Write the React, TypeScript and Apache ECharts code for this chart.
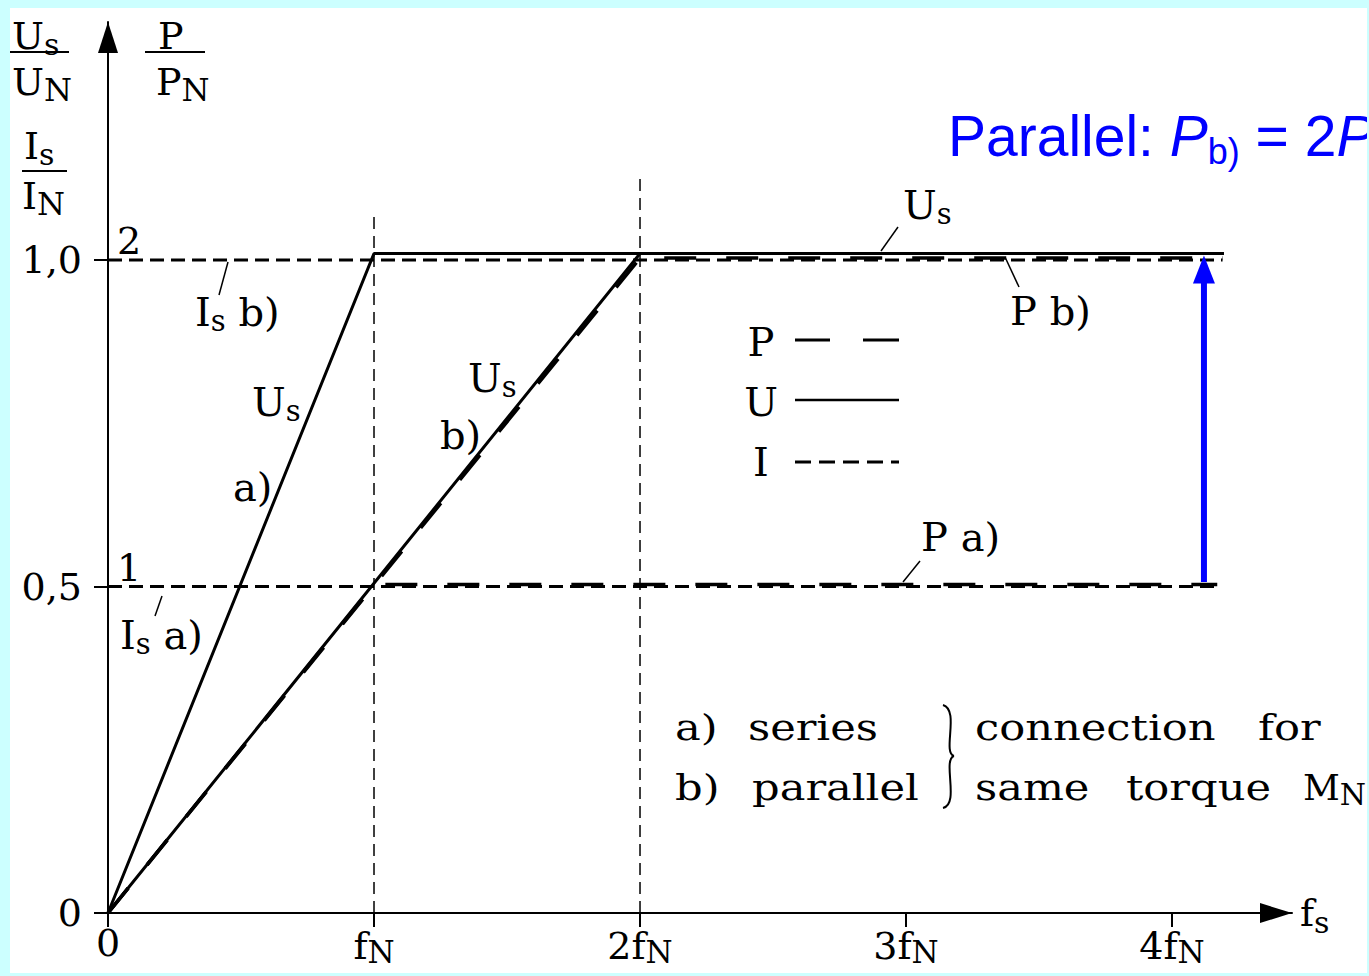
import React, { useEffect, useRef } from 'react';
import * as echarts from 'echarts';

const INK = '#000000';
const BLUE = '#0000ff';
const SERIF = "'DejaVu Serif', serif";
const SANS = "'Liberation Sans', Arial, sans-serif";

// frequency axis, in multiples of f_N
const xTickValues = [0, 1, 2, 3, 4];
const xTickLabels = ['0', 'f{n|N}', '2f{n|N}', '3f{n|N}', '4f{n|N}'];
const xMax = 4.451;

// per-unit axis (U_s/U_N, I_s/I_N) and the matching P/P_N marks
const yTickValues = [0, 0.5, 1];
const yTickLabels = ['0', '0,5', '1,0'];
const powerTickValues = [0.5, 1];
const powerTickLabels = ['1', '2'];
const yMax = 1.3645;

// stator voltage U_s/U_N: a) series, b) parallel
const usA = [[0, 0], [1, 1.01], [4.195, 1.01]];
const usB = [[0, 0], [2, 1.01], [4.195, 1.01]];
// stator current I_s/I_N
const isA = [[0, 0.5], [4.17, 0.5]];
const isB = [[0, 1], [4.19, 1]];
// power P/P_N
const pA = [[0, 0], [1, 0.503], [4.17, 0.503]];
const pB = [[0, 0], [2, 1.003], [4.19, 1.003]];
// guides at f_N and 2 f_N
const guideFN = [[1, 0], [1, 1.07]];
const guide2FN = [[2, 0], [2, 1.133]];
// step from P a) up to P b)
const gainArrow = [[4.12, 0.507, 1.007]];

const pick = (values: number[], labels: string[], v: number) => {
  const i = values.findIndex((t) => Math.abs(t - v) < 1e-6);
  return i < 0 ? '' : labels[i];
};

const richSub = (size: number, subScale: number) => ({
  m: { fontFamily: SERIF, fontSize: size, fill: INK, color: INK },
  s: { fontFamily: SERIF, fontSize: Math.round(size * subScale), fill: INK, color: INK, padding: [Math.round(size * 0.42), 0, 0, 0] },
  n: { fontFamily: SERIF, fontSize: Math.round(size * 0.84), fill: INK, color: INK, padding: [Math.round(size * 0.42), 0, 0, 0] },
});

const txt = (x: number, y: number, text: string, size = 40, extra: any = {}) => {
  const { style, subScale, ...rest } = extra;
  return {
    type: 'text',
    x,
    y,
    silent: true,
    z: 20,
    ...rest,
    style: {
      text,
      fill: INK,
      fontFamily: SERIF,
      fontSize: size,
      align: 'left',
      verticalAlign: 'middle',
      textAlign: 'left',
      textVerticalAlign: 'middle',
      rich: richSub(size, subScale || 0.72),
      ...(style || {}),
    },
  };
};

const seg = (x1: number, y1: number, x2: number, y2: number, width = 1.5, dash: any = null) => ({
  type: 'line',
  silent: true,
  z: 20,
  shape: { x1, y1, x2, y2 },
  style: { stroke: INK, lineWidth: width, lineDash: dash, lineCap: 'butt' },
});

const line = (name: string, data: number[][], width: number, type: any) => ({
  name,
  type: 'line',
  data,
  symbol: 'none',
  silent: true,
  clip: false,
  z: 3,
  lineStyle: { color: INK, width, type, cap: 'butt' },
});

const axisLineStyle = { color: INK, width: 2 };
const NOTE = { scaleX: 1.2 };

function buildOption(): any {
  return {
    animation: false,
    backgroundColor: '#ffffff',
    grid: { left: 98, right: 75, top: 14, bottom: 60, containLabel: false, outerBoundsMode: 'none' },
    xAxis: {
      type: 'value',
      min: 0,
      max: xMax,
      axisLine: {
        show: true,
        onZero: false,
        lineStyle: axisLineStyle,
        symbol: ['none', 'triangle'],
        symbolSize: [20, 32],
        symbolOffset: [0, -16],
      },
      axisTick: { show: true, length: 14, customValues: xTickValues, lineStyle: axisLineStyle },
      axisLabel: {
        customValues: xTickValues,
        formatter: (v: number) => pick(xTickValues, xTickLabels, v),
        color: INK,
        fontFamily: SERIF,
        fontSize: 38,
        margin: 11,
        rich: {
          n: { fontFamily: SERIF, fontSize: 31, color: INK, padding: [12, 0, 0, 0] },
        },
      },
      splitLine: { show: false },
      name: '{f|f}{s|s}',
      nameLocation: 'end',
      nameGap: 8,
      nameTextStyle: {
        color: INK,
        verticalAlign: 'middle',
        align: 'left',
        rich: {
          f: { fontFamily: SERIF, fontSize: 38, color: INK },
          s: { fontFamily: SERIF, fontSize: 30, color: INK, padding: [18, 0, 0, 0] },
        },
      },
    },
    yAxis: [
      {
        type: 'value',
        min: 0,
        max: yMax,
        position: 'left',
        axisLine: {
          show: true,
          onZero: false,
          lineStyle: axisLineStyle,
          symbol: ['none', 'triangle'],
          symbolSize: [20, 31],
          symbolOffset: [0, -15.5],
        },
        axisTick: { show: true, length: 14, customValues: yTickValues, lineStyle: axisLineStyle },
        axisLabel: {
          customValues: yTickValues,
          formatter: (v: number) => pick(yTickValues, yTickLabels, v),
          color: INK,
          fontFamily: SERIF,
          fontSize: 38,
          margin: 26,
        },
        splitLine: { show: false },
      },
      {
        type: 'value',
        min: 0,
        max: yMax,
        position: 'left',
        axisLine: { show: false },
        axisTick: { show: false },
        splitLine: { show: false },
        axisLabel: {
          inside: true,
          customValues: powerTickValues,
          formatter: (v: number) => pick(powerTickValues, powerTickLabels, v),
          color: INK,
          fontFamily: SERIF,
          fontSize: 38,
          align: 'left',
          verticalAlign: 'bottom',
          margin: 9,
        },
      },
    ],
    series: [
      line('f_N', guideFN, 1.5, [12, 7]),
      line('2 f_N', guide2FN, 1.5, [12, 7]),
      line('I a)', isA, 3, [14, 7]),
      line('I b)', isB, 3, [14, 7]),
      line('P a)', pA, 3.5, [32, 30]),
      line('P b)', pB, 3.5, [32, 30]),
      line('U a)', usA, 3, 'solid'),
      line('U b)', usB, 3, 'solid'),
      {
        name: 'P a) to P b)',
        type: 'custom',
        data: gainArrow,
        encode: { x: 0, y: [1, 2] },
        clip: false,
        silent: true,
        z: 6,
        renderItem: (_params: any, api: any) => {
          const p0 = api.coord([api.value(0), api.value(1)]);
          const p1 = api.coord([api.value(0), api.value(2)]);
          const headH = 28;
          const headW = 22;
          return {
            type: 'group',
            children: [
              {
                type: 'line',
                shape: { x1: p0[0], y1: p0[1], x2: p1[0], y2: p1[1] + headH - 2 },
                style: { stroke: BLUE, lineWidth: 6 },
              },
              {
                type: 'polygon',
                shape: {
                  points: [
                    [p1[0], p1[1]],
                    [p1[0] - headW / 2, p1[1] + headH],
                    [p1[0] + headW / 2, p1[1] + headH],
                  ],
                },
                style: { fill: BLUE },
              },
            ],
          };
        },
      },
    ],
    graphic: [
      // axis quantity fractions
      txt(2, 28, '{m|U}{s|s}', 38, { subScale: 0.8 }),
      seg(0, 44, 59, 44, 2),
      txt(2, 74, '{m|U}{n|N}', 38),
      txt(148, 28, 'P', 38),
      seg(135, 44, 195, 44, 2),
      txt(146, 74, '{m|P}{n|N}', 38),
      txt(14, 138, '{m|I}{s|s}', 38, { subScale: 0.8 }),
      seg(12, 163, 57, 163, 2),
      txt(12, 188, '{m|I}{n|N}', 38),

      // curve annotations
      txt(893, 197, '{m|U}{s|s}'),
      seg(888, 219, 871, 243),
      txt(1000, 303, 'P b)'),
      seg(995, 249, 1009, 279),
      txt(185, 304, '{m|I}{s|s}{m| b)}'),
      seg(218, 254, 209, 287),
      txt(242, 394, '{m|U}{s|s}'),
      txt(223, 479, 'a)'),
      txt(458, 370, '{m|U}{s|s}'),
      txt(430, 427, 'b)'),
      txt(911, 529, 'P a)'),
      seg(910, 553, 893, 574),
      txt(110, 627, '{m|I}{s|s}{m| a)}'),
      seg(152, 588, 145, 608),

      // key
      txt(751, 334, 'P', 40, { style: { align: 'center', textAlign: 'center' } }),
      seg(785, 332, 820, 332, 3),
      seg(853, 332, 889, 332, 3),
      txt(751, 394, 'U', 40, { style: { align: 'center', textAlign: 'center' } }),
      seg(785, 392, 889, 392, 2.5),
      txt(751, 454, 'I', 40, { style: { align: 'center', textAlign: 'center' } }),
      seg(785, 454, 889, 454, 3, [16, 8]),

      // connection note
      txt(665, 719, 'a)', 36, NOTE),
      txt(738, 719, 'series', 36, NOTE),
      txt(965, 719, 'connection', 36, NOTE),
      txt(1248, 719, 'for', 36, NOTE),
      txt(665, 779, 'b)', 36, NOTE),
      txt(742, 779, 'parallel', 36, NOTE),
      txt(965, 779, 'same', 36, NOTE),
      txt(1116, 779, 'torque', 36, NOTE),
      txt(1293, 779, '{m|M}{n|N}', 36),
      {
        type: 'bezierCurve',
        silent: true,
        z: 20,
        shape: { x1: 933, y1: 697, cpx1: 950, cpy1: 702, cpx2: 932, cpy2: 745, x2: 944, y2: 748 },
        style: { stroke: INK, lineWidth: 2, fill: null },
      },
      {
        type: 'bezierCurve',
        silent: true,
        z: 20,
        shape: { x1: 944, y1: 748, cpx1: 932, cpy1: 752, cpx2: 950, cpy2: 796, x2: 933, y2: 800 },
        style: { stroke: INK, lineWidth: 2, fill: null },
      },

      // headline, running off the right edge of the panel
      {
        type: 'text',
        x: 938,
        y: 128,
        silent: true,
        z: 20,
        style: {
          text: '{n|Parallel: }{i|P}{b|b)}{n| = 2}{i|P}',
          fill: BLUE,
          fontFamily: SANS,
          fontSize: 57,
          align: 'left',
          verticalAlign: 'middle',
          textAlign: 'left',
          textVerticalAlign: 'middle',
          rich: {
            n: { fontFamily: SANS, fontSize: 57, fill: BLUE },
            i: { fontFamily: SANS, fontSize: 57, fontStyle: 'italic', fill: BLUE },
            b: { fontFamily: SANS, fontSize: 36, fill: BLUE, padding: [30, 0, 0, 0] },
          },
        },
      },
    ],
  };
}

export default function App() {
  const ref = useRef<HTMLDivElement>(null);
  useEffect(() => {
    if (!ref.current) return;
    const chart = echarts.init(ref.current, null, { renderer: 'svg' });
    chart.setOption(buildOption());
    return () => chart.dispose();
  }, []);
  return (
    <div style={{ position: 'fixed', left: 0, top: 0, width: 1369, height: 976, background: '#ccffff' }}>
      <div
        ref={ref}
        style={{ position: 'absolute', left: 10, top: 8, width: 1357, height: 965, background: '#ffffff', overflow: 'hidden' }}
      />
    </div>
  );
}
